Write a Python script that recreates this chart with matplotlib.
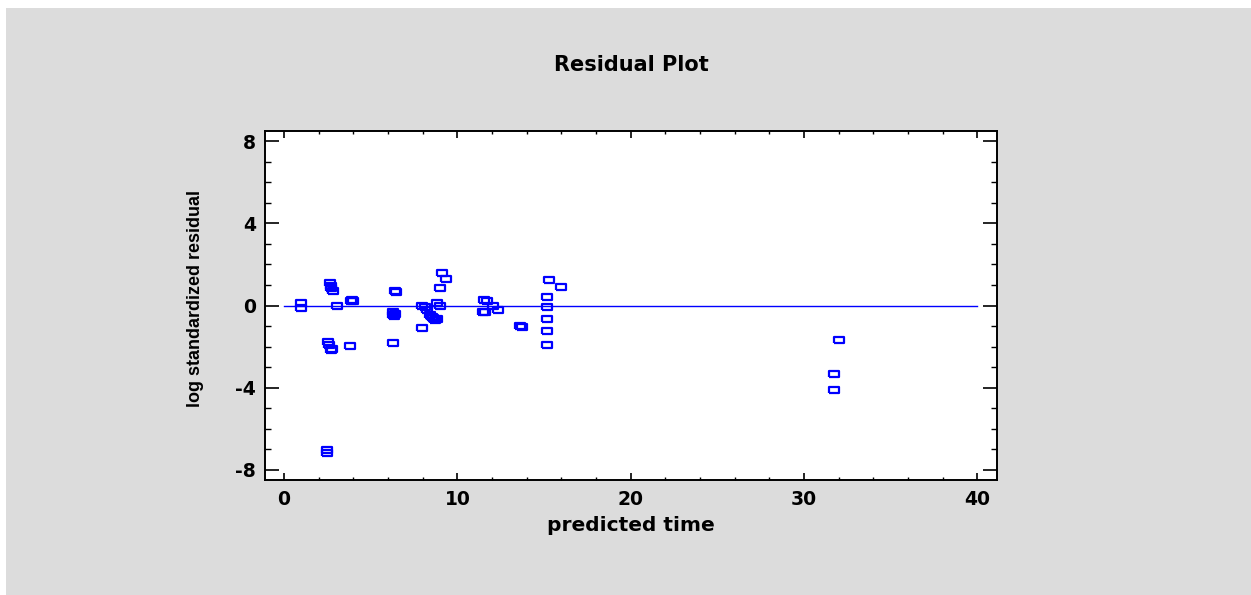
import numpy as np
import matplotlib.pyplot as plt
from matplotlib.patches import Rectangle

plt.rcParams['axes.unicode_minus'] = False

# predicted time vs log standardized residual
predicted = [1.0, 1.0, 2.65, 2.7, 2.72, 2.8, 3.04, 3.85, 3.9, 3.95,
             2.52, 2.6, 2.7, 2.75, 3.8, 2.46, 2.46, 6.4, 6.45, 6.27,
             6.3, 6.35, 6.4, 6.27, 7.96, 7.98, 8.13, 8.25, 8.42, 8.55,
             8.62, 8.7, 8.8, 8.84, 9.0, 9.0, 9.09, 9.34, 11.55, 11.7,
             11.5, 11.6, 12.07, 12.36, 13.6, 13.75, 15.18, 15.18, 15.18, 15.18,
             15.18, 15.28, 15.96, 32.02, 31.72, 31.72]
residual = [0.1, -0.1, 1.09, 0.97, 0.86, 0.70, 0.0, 0.24, 0.28, 0.22,
            -1.8, -1.9, -2.15, -2.1, -1.96, -7.05, -7.18, 0.7, 0.68, -0.3,
            -0.45, -0.49, -0.4, -1.81, -1.09, 0.0, -0.08, -0.2, -0.44, -0.54,
            -0.6, -0.7, -0.65, 0.13, 0.0, 0.86, 1.57, 1.3, 0.27, 0.24,
            -0.34, -0.3, 0.0, -0.21, -1.02, -1.06, 0.42, -0.08, -0.68, -1.25,
            -1.9, 1.26, 0.92, -1.67, -3.32, -4.1]
x_ticks = [0, 10, 20, 30, 40]
y_ticks = [-8, -4, 0, 4, 8]

gray = '#dcdcdc'
blue = '#0000ff'

fig = plt.figure(figsize=(12.51, 5.95), dpi=100)
fig.patch.set_facecolor('white')
# gray panel, with thin white strip at top and left
fig.patches.append(Rectangle((6 / 1251, 0), 1, 1 - 8 / 595,
                             transform=fig.transFigure, facecolor=gray,
                             edgecolor='none', zorder=-10))

ax = fig.add_axes([264.5 / 1251, 1 - 480 / 595, 732.5 / 1251, 349 / 595])
ax.set_facecolor('white')

# zero line
ax.plot([0, 40], [0, 0], color=blue, lw=1.0, zorder=2)

# wide open rectangles as markers
box = [(-1.4, -1), (1.4, -1), (1.4, 1), (-1.4, 1), (-1.4, -1)]
ax.plot(predicted, residual, linestyle='none', marker=box, markersize=7,
        markerfacecolor='none', markeredgecolor=blue, markeredgewidth=1.6,
        zorder=3)

ax.set_xlim(-1.13, 41.13)
ax.set_ylim(-8.5, 8.5)
ax.set_xticks(x_ticks)
ax.set_yticks(y_ticks)
ax.set_xticks(np.arange(0, 41, 2), minor=True)
ax.set_yticks(np.arange(-8, 9, 1), minor=True)

for sp in ax.spines.values():
    sp.set_linewidth(1.4)
    sp.set_color('black')

ax.tick_params(axis='x', which='major', direction='in', length=5, width=1.2,
               top=True, labelsize=13.5, pad=7)
ax.tick_params(axis='x', which='minor', direction='in', length=2.5, width=1.0,
               top=True)
ax.tick_params(axis='y', which='major', direction='in', length=10, width=1.2,
               right=True, labelsize=13.5, pad=6)
ax.tick_params(axis='y', which='minor', direction='in', length=4.5, width=1.0,
               right=True)
for lab in ax.get_xticklabels() + ax.get_yticklabels():
    lab.set_fontweight('bold')

ax.set_xlabel('predicted time', fontsize=14.5, fontweight='bold', labelpad=5)
ax.set_ylabel('log standardized residual', family='Liberation Sans',
              fontsize=13, fontweight='bold')
ax.yaxis.set_label_coords(-0.082, 0.52)
fig.text(631 / 1251, 1 - 65 / 595, 'Residual Plot', ha='center',
         va='center', fontsize=15, fontweight='bold')

plt.savefig('out.png', dpi=100, facecolor=fig.get_facecolor())
